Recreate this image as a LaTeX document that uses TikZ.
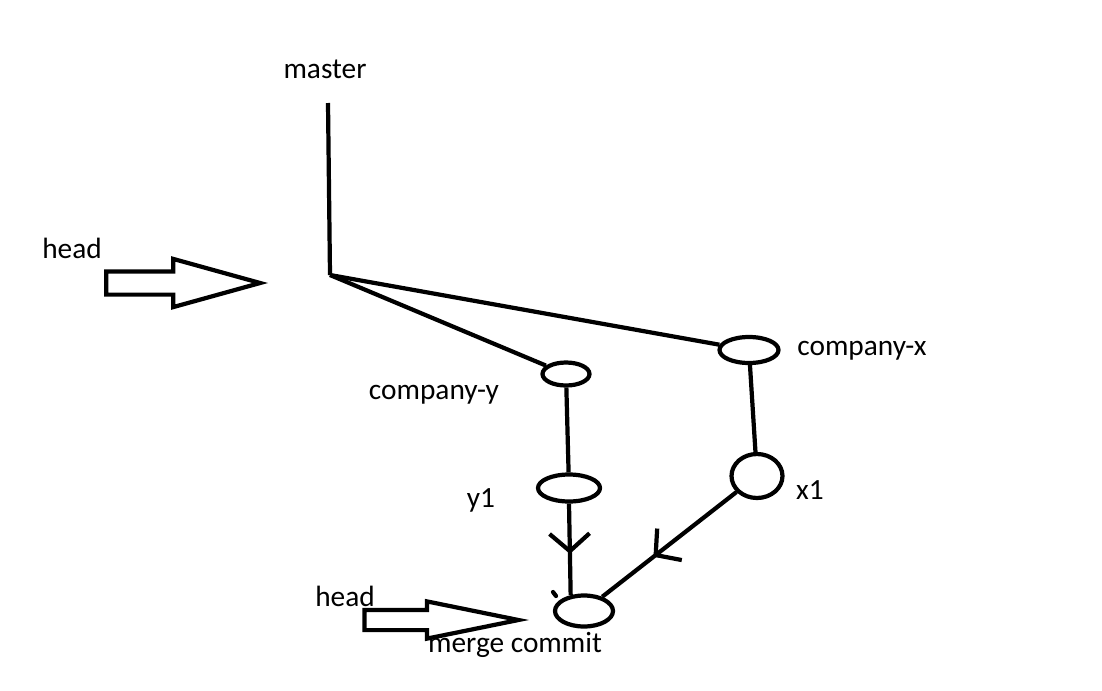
\documentclass[tikz,border=0pt]{standalone}
\usepackage{fontspec}
\setmainfont{Carlito}
\usetikzlibrary{shapes.geometric,shapes.arrows,arrows.meta,decorations.markings}

\tikzset{
  commit/.style={ellipse,draw,inner sep=0pt},
  lbl/.style={font=\fontsize{16.7}{20}\selectfont,inner sep=0pt},
  headarrow/.style={single arrow,draw,inner sep=0pt,text depth=0pt,single arrow head indent=0pt,anchor=tip},
  midarrow/.style={postaction={decorate},decoration={markings,mark=at position #1 with {\arrow{Straight Barb[length=3.5mm,width=8mm]}}}}
}

\begin{document}
\begin{tikzpicture}[x=0.02cm,y=-0.02cm,line width=2.4pt]
  \useasboundingbox (0,0) rectangle (1102,690);

  \node[lbl] (tmaster) at (325,69) {master};
  \node[lbl] (thead1) at (72,248) {head};
  \node[lbl] (thead2) at (345,596) {head};
  \node[lbl] (tcy) at (434,395) {company-y};
  \node[lbl] (tcx) at (862,351) {company-x};
  \node[lbl] (ty1) at (481,500) {y1};
  \node[lbl] (tx1) at (810,490) {x1};
  \node[lbl] (tmc) at (515,645) {merge commit};

  \coordinate (top) at (328,103);
  \coordinate (fork) at (330,275);
  \node[commit,minimum width=0.94cm,minimum height=0.46cm] (cy) at (566,374) {};
  \node[commit,minimum width=1.18cm,minimum height=0.52cm] (cx) at (749,350) {};
  \node[commit,minimum width=1.24cm,minimum height=0.54cm] (y1) at (569,488) {};
  \node[commit,minimum width=1.02cm,minimum height=0.88cm] (x1) at (757,476) {};
  \node[commit,minimum width=1.16cm,minimum height=0.62cm] (mc) at (584,611) {};

  \node[headarrow,text height=0.38cm,minimum height=3.08cm,single arrow head extend=0.25cm,single arrow tip angle=31] (harrow1) at (268,283) {};
  \node[headarrow,text height=0.32cm,minimum height=3.08cm,single arrow head extend=0.17cm,single arrow tip angle=23] (harrow2) at (529,620) {};

  \foreach \from/\to in {top/fork,fork/cy,fork/cx,cy/y1,cx/x1}
    \draw (\from) -- (\to);
  \draw[midarrow=0.55] (y1.south) -- (mc.130);
  \draw[midarrow=0.62] (x1) -- (mc);

  \draw[line cap=round] (553,592) -- (556,596);
\end{tikzpicture}
\end{document}
